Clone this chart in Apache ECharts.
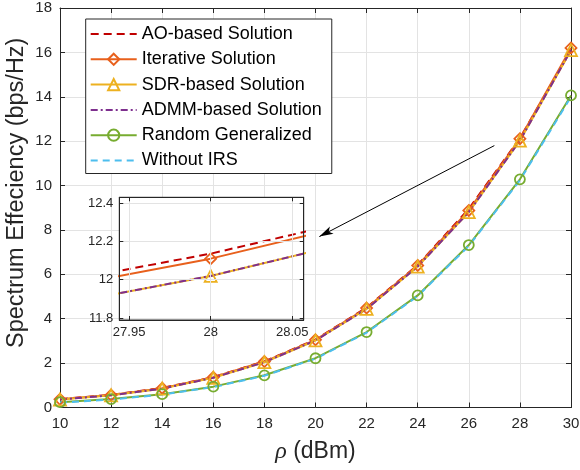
<!DOCTYPE html>
<html>
<head>
<meta charset="utf-8">
<script src="https://cdn.jsdelivr.net/npm/echarts@6/dist/echarts.min.js"></script>
<style>html,body{margin:0;padding:0;background:#fff;}#c{width:580px;height:470px;}</style>
</head>
<body>
<div id="c"></div>
<script>
// ---- data ----
const rho = [10, 12, 14, 16, 18, 20, 22, 24, 26, 28, 30];
const aoSE     = [0.38, 0.57, 0.88, 1.37, 2.08, 3.06, 4.50, 6.42, 8.95, 12.136, 16.10];
const iterSE   = [0.37, 0.56, 0.87, 1.36, 2.07, 3.05, 4.48, 6.40, 8.88, 12.11, 16.20];
const sdrSE    = [0.36, 0.55, 0.85, 1.34, 2.04, 3.02, 4.44, 6.35, 8.80, 12.02, 16.10];
const admmSE   = [0.36, 0.55, 0.85, 1.34, 2.04, 3.02, 4.44, 6.35, 8.80, 12.02, 16.10];
const randSE   = [0.24, 0.38, 0.60, 0.94, 1.45, 2.22, 3.40, 5.05, 7.32, 10.28, 14.06];
const noIrsSE  = [0.22, 0.36, 0.58, 0.92, 1.43, 2.20, 3.37, 5.02, 7.28, 10.24, 14.00];
const seriesNames = ['AO-based Solution', 'Iterative Solution', 'SDR-based Solution', 'ADMM-based Solution', 'Random Generalized', 'Without IRS'];
const xTicks = [10, 12, 14, 16, 18, 20, 22, 24, 26, 28, 30];
const yTicks = [0, 2, 4, 6, 8, 10, 12, 14, 16, 18];
const insetXTicks = [27.95, 28, 28.05];
const insetYTicks = [11.8, 12, 12.2, 12.4];
const arrowFrom = [27.0, 11.8];
const arrowTo = [20.15, 7.7];

const FONT = 'Liberation Sans, Arial, Helvetica, sans-serif';
const AX = '#262626';
const GRIDC = '#e3e3e3';

const styles = [
  {color: '#C00000', type: [8, 5], symbol: 'none'},
  {color: '#E8601C', type: 'solid', symbol: 'diamond', size: 11},
  {color: '#EDB120', type: 'solid', symbol: 'triangle', size: 12},
  {color: '#7E2F8E', type: [7, 3, 2, 3], symbol: 'none'},
  {color: '#77AC30', type: 'solid', symbol: 'circle', size: 10},
  {color: '#4DBEEE', type: [7, 5], symbol: 'none'}
];
const dataSets = [aoSE, iterSE, sdrSE, admmSE, randSE, noIrsSE];

function mkSeries(i, xi, yi, z) {
  const s = styles[i];
  const hasSym = s.symbol !== 'none';
  return {
    name: seriesNames[i],
    type: 'line',
    xAxisIndex: xi, yAxisIndex: yi,
    data: rho.map((x, k) => [x, dataSets[i][k]]),
    symbol: s.symbol,
    symbolSize: s.size || 0,
    showSymbol: hasSym,
    clip: true,
    z: z,
    lineStyle: {color: s.color, width: 2, type: s.type},
    itemStyle: hasSym
      ? {color: 'rgba(255,255,255,0)', borderColor: s.color, borderWidth: 1.8}
      : {color: 'rgba(255,255,255,0)', borderColor: 'rgba(255,255,255,0)', borderWidth: 0},
    emphasis: {disabled: true},
    animation: false
  };
}

const series = [];
for (let i = 0; i < 6; i++) series.push(mkSeries(i, 0, 0, 2));
for (let i = 0; i < 6; i++) series.push(mkSeries(i, 2, 2, 12));
series[0].markLine = {
  silent: true,
  symbol: ['none', 'arrow'],
  symbolSize: [6, 14],
  label: {show: false},
  lineStyle: {color: '#000', width: 1, type: 'solid'},
  data: [[{coord: arrowFrom}, {coord: arrowTo}]],
  animation: false
};

function mainAxisX(pos, showLabel) {
  return {
    type: 'value', gridIndex: 0, position: pos, min: xTicks[0], max: xTicks[xTicks.length - 1], interval: 2,
    axisLine: {show: true, onZero: false, lineStyle: {color: AX, width: 1}},
    axisTick: {show: true, inside: true, length: 5, lineStyle: {color: AX}},
    axisLabel: {show: showLabel, color: AX, fontSize: 15, fontFamily: FONT, margin: 9},
    splitLine: {show: showLabel, lineStyle: {color: GRIDC, width: 1}},
    name: showLabel ? '{i|ρ} (dBm)' : '',
    nameLocation: 'middle', nameGap: 32, nameMoveOverlap: false,
    nameTextStyle: {color: AX, fontSize: 23, fontFamily: FONT, rich: {i: {fontStyle: 'italic', fontFamily: 'Liberation Serif, serif', fontSize: 24, color: AX}}}
  };
}
function mainAxisY(pos, showLabel) {
  return {
    type: 'value', gridIndex: 0, position: pos, min: yTicks[0], max: yTicks[yTicks.length - 1], interval: 2,
    axisLine: {show: true, onZero: false, lineStyle: {color: AX, width: 1}},
    axisTick: {show: true, inside: true, length: 5, lineStyle: {color: AX}},
    axisLabel: {show: showLabel, color: AX, fontSize: 15, fontFamily: FONT, margin: 8},
    splitLine: {show: showLabel, lineStyle: {color: GRIDC, width: 1}},
    name: showLabel ? 'Spectrum Effeciency (bps/Hz)' : '',
    nameLocation: 'middle', nameGap: 31, nameMoveOverlap: false,
    nameTextStyle: {color: AX, fontSize: 23.5, fontFamily: FONT, padding: [0, 0, 0, 30]}
  };
}
function insetAxisX(pos, showLabel) {
  return {
    type: 'value', gridIndex: 1, position: pos, min: 27.944, max: 28.057, z: 14,
    axisLine: {show: true, onZero: false, lineStyle: {color: AX, width: 1}},
    axisTick: {show: true, inside: true, length: 4, customValues: insetXTicks, lineStyle: {color: AX}},
    axisLabel: {show: showLabel, customValues: insetXTicks, color: AX, fontSize: 13, fontFamily: FONT, margin: 6},
    splitLine: {show: showLabel, lineStyle: {color: GRIDC, width: 1}}
  };
}
function insetAxisY(pos, showLabel) {
  return {
    type: 'value', gridIndex: 1, position: pos, min: 11.79, max: 12.43, z: 14,
    axisLine: {show: true, onZero: false, lineStyle: {color: AX, width: 1}},
    axisTick: {show: true, inside: true, length: 4, customValues: insetYTicks, lineStyle: {color: AX}},
    axisLabel: {show: showLabel, customValues: insetYTicks, color: AX, fontSize: 13, fontFamily: FONT, margin: 6},
    splitLine: {show: showLabel, lineStyle: {color: GRIDC, width: 1}}
  };
}

const chart = echarts.init(document.getElementById('c'), null, {renderer: 'canvas'});
chart.setOption({
  animation: false,
  backgroundColor: '#fff',
  textStyle: {fontFamily: FONT},
  grid: [
    {left: 60, right: 9, top: 8, bottom: 62.5, containLabel: false, outerBoundsMode: 'none'},
    {left: 119.3, top: 197.3, width: 184.4, height: 122.7, show: true, z: 10, outerBoundsMode: 'none',
     backgroundColor: '#fff', borderColor: AX, borderWidth: 1}
  ],
  xAxis: [mainAxisX('bottom', true), mainAxisX('top', false), insetAxisX('bottom', true), insetAxisX('top', false)],
  yAxis: [mainAxisY('left', true), mainAxisY('right', false), insetAxisY('left', true), insetAxisY('right', false)],
  legend: {
    orient: 'vertical', left: 85.7, top: 19,
    data: seriesNames,
    itemWidth: 46, itemHeight: 14, itemGap: 7.3,
    padding: [6, 10, 4, 4],
    backgroundColor: '#fff', borderColor: AX, borderWidth: 1, borderRadius: 0,
    textStyle: {color: '#000', fontSize: 18, fontFamily: FONT},
    selectedMode: false,
    z: 20
  },
  series: series
});
</script>
</body>
</html>
